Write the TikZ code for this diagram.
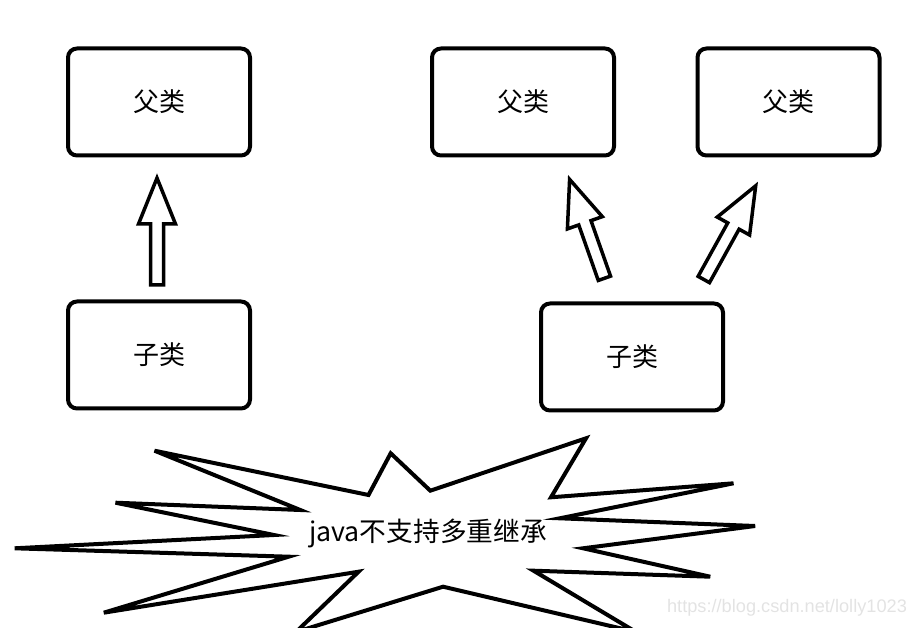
\documentclass[tikz,border=0pt]{standalone}
\usepackage{fontspec}
\newfontfamily\cjk{Noto Sans CJK SC}
\setsansfont{Liberation Sans}
\usetikzlibrary{positioning,calc}

\newcommand{\blockarrow}[2]{%
  \path ($(#2)!46pt!(#1)$) coordinate (#1-h);
  \draw[hollow] ($(#1)!6.5pt!90:(#2)$) -- ($(#1-h)!6.5pt!90:(#2)$) -- ($(#1-h)!18.5pt!90:(#2)$)
    -- (#2) -- ($(#1-h)!18.5pt!-90:(#2)$) -- ($(#1-h)!6.5pt!-90:(#2)$) -- ($(#1)!6.5pt!-90:(#2)$) -- cycle;}

\begin{document}
\begin{tikzpicture}[x=1pt,y=-1pt,line join=miter]
	  \tikzstyle{klass}=[draw=black,fill=white,line width=4pt,rounded corners=9pt,minimum width=182pt,minimum height=107pt,font=\cjk\fontsize{26}{30}\selectfont]
	  \tikzstyle{hollow}=[draw=black,fill=white,line width=3.5pt]
	  \useasboundingbox (0,0) rectangle (914,628);

	  \node[klass] (P) at (159,102) {父类};
	  \node[klass] (C) [below=142pt of P] {子类};
	  \node[klass] (P2) at (523,102) {父类};
	  \node[klass] (P3) [right=79.5pt of P2] {父类};
	  \node[klass] (C2) at (632,357) {子类};

	  \coordinate (a) at (157,285);  \coordinate (at) at (157,178);
	  \coordinate (b) at (604.4,278.3); \coordinate (bt) at (569.6,179.4);
	  \coordinate (c) at (703.8,279.5); \coordinate (ct) at (755.7,185.8);
	  \blockarrow{a}{at}
	  \blockarrow{b}{bt}
	  \blockarrow{c}{ct}

	  % the burst
	  \begin{scope}
	    \clip (0,0) rectangle (914,628);
	    \draw[hollow,line width=4pt] (154.5,450.7) -- (300.3,510) -- (115.5,502.7) -- (274,535) -- (14.6,548.3)
	      -- (288.6,556.7) -- (103.8,612.7) -- (358.6,571.7) -- (296,632) -- (443.1,586.7) -- (636,632)
	      -- (533.5,570.7) -- (710.2,576.7) -- (583.1,548.3) -- (755.1,526) -- (559.8,518.3) -- (733.5,483.3)
	      -- (551,497.3) -- (586,438.3) -- (430.3,490.7) -- (390.7,453.3) -- (368.5,495) -- cycle;
	  \end{scope}
	  \node[font=\cjk\fontsize{26.7}{30}\selectfont] (J) at (428,533) {java不支持多重继承};

	  \node[font=\sffamily\fontsize{18.2}{21}\selectfont,text=black!11] (M) at (787,608) {https://blog.csdn.net/lolly1023};
	\end{tikzpicture}
\end{document}
